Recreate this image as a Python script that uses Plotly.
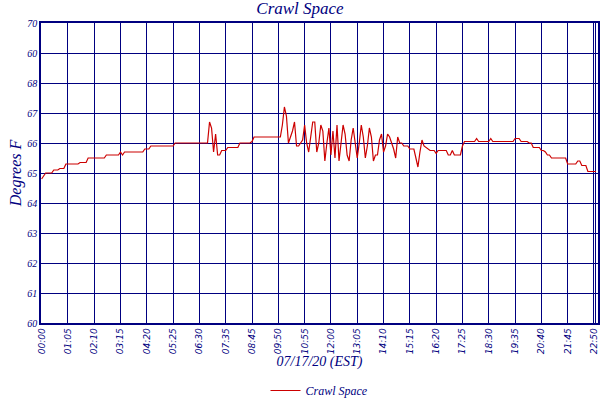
import plotly.graph_objects as go

# 5-minute readings, one row per 65-minute tick interval
temps = [
    64.8, 64.9, 65.0, 65.0, 65.0, 65.0, 65.1, 65.1, 65.1, 65.15, 65.15, 65.15, 65.3,
    65.3, 65.3, 65.3, 65.3, 65.3, 65.3, 65.35, 65.35, 65.35, 65.35, 65.5, 65.5, 65.5,
    65.5, 65.5, 65.5, 65.5, 65.5, 65.5, 65.6, 65.6, 65.6, 65.6, 65.6, 65.6, 65.6,
    65.7, 65.6, 65.7, 65.7, 65.7, 65.7, 65.7, 65.7, 65.7, 65.7, 65.7, 65.7, 65.8,
    65.8, 65.8, 65.9, 65.9, 65.9, 65.9, 65.9, 65.9, 65.9, 65.9, 65.9, 65.9, 65.9,
    65.9, 66.0, 66.0, 66.0, 66.0, 66.0, 66.0, 66.0, 66.0, 66.0, 66.0, 66.0, 66.0,
    66.0, 66.0, 66.0, 66.0, 66.0, 66.7, 66.5, 65.7, 66.3, 65.6, 65.6, 65.75, 65.75,
    65.75, 65.85, 65.85, 65.85, 65.85, 65.85, 65.85, 66.0, 66.0, 66.0, 66.0, 66.0, 66.0,
    66.05, 66.2, 66.2, 66.2, 66.2, 66.2, 66.2, 66.2, 66.2, 66.2, 66.2, 66.2, 66.2,
    66.2, 66.2, 66.6, 67.2, 66.9, 66.0, 66.2, 66.4, 66.7, 65.9, 65.9, 66.0, 66.1,
    66.6, 66.0, 65.7, 66.3, 66.7, 66.7, 65.7, 66.0, 66.6, 66.4, 65.4, 66.0, 66.5,
    65.6, 66.4, 65.5, 66.6, 65.4, 66.0, 66.6, 66.3, 65.6, 65.4, 66.1, 66.5, 66.0,
    65.5, 66.0, 66.6, 66.2, 65.5, 65.9, 66.5, 66.2, 65.4, 65.6, 65.6, 66.1, 66.3,
    65.7, 65.9, 66.3, 66.2, 66.0, 65.8, 65.5, 66.2, 66.0, 66.0, 65.9, 65.9, 65.9,
    65.8, 65.8, 65.8, 65.5, 65.2, 65.7, 66.1, 65.9, 65.85, 65.8, 65.75, 65.75, 65.75,
    65.65, 65.75, 65.75, 65.75, 65.75, 65.75, 65.6, 65.6, 65.75, 65.6, 65.6, 65.6, 65.6,
    65.9, 66.05, 66.05, 66.05, 66.05, 66.05, 66.05, 66.15, 66.05, 66.05, 66.05, 66.05, 66.05,
    66.05, 66.15, 66.05, 66.05, 66.05, 66.05, 66.05, 66.05, 66.05, 66.05, 66.05, 66.05, 66.05,
    66.15, 66.15, 66.15, 66.05, 66.05, 66.05, 66.05, 66.0, 66.0, 65.85, 65.85, 65.85, 65.85,
    65.75, 65.75, 65.7, 65.6, 65.6, 65.5, 65.5, 65.5, 65.5, 65.5, 65.5, 65.5, 65.5,
    65.3, 65.3, 65.3, 65.3, 65.3, 65.4, 65.4, 65.25, 65.25, 65.25, 65.05, 65.05, 65.05,
    65.05, 65.05,
]

tick_labels = ["00:00", "01:05", "02:10", "03:15", "04:20", "05:25", "06:30", "07:35",
               "08:45", "09:50", "10:55", "12:00", "13:05", "14:10", "15:15", "16:20",
               "17:25", "18:30", "19:35", "20:40", "21:45", "22:50", "22:55"]
tick_pos = [i * 13 for i in range(22)] + [274]

y_ticks = [60, 61, 62, 63, 64, 65, 66, 67, 68, 69, 70]
y_text = ["60", "61", "62", "63", "64", "65", "66", "67", "68", "60", "70"]

navy = "#000080"
serif_i = dict(family="Liberation Serif", style="italic", color=navy)

fig = go.Figure()
fig.add_trace(go.Scatter(
    x=list(range(len(temps))),
    y=temps,
    mode="lines",
    line=dict(color="#cc0000", width=1.2),
    name="Crawl Space"
))

fig.update_layout(
    width=600, height=400,
    margin=dict(l=41, r=2, t=23, b=77, autoexpand=False),
    paper_bgcolor="white",
    plot_bgcolor="white",
    title=dict(text="Crawl Space", x=0.5, y=0.995, xanchor="center", yanchor="top",
               pad=dict(t=0), font=dict(serif_i, size=17)),
    showlegend=True,
    legend=dict(orientation="h", x=0.5, xanchor="center", y=-0.225, yanchor="middle",
                font=dict(serif_i, size=12)),
    xaxis=dict(
        range=[-0.3, 275], tickvals=tick_pos, ticktext=tick_labels, tickangle=-90,
        showgrid=True, gridcolor=navy, gridwidth=1.3,
        showline=True, linecolor=navy, linewidth=1.5, mirror=True,
        tickfont=dict(family="DejaVu Sans", style="italic", size=9, color=navy),
        title=dict(text="07/17/20 (EST)", standoff=2, font=dict(serif_i, size=14)),
        zeroline=False, automargin=False,
    ),
    yaxis=dict(
        range=[60, 70], tickvals=y_ticks, ticktext=y_text,
        showgrid=True, gridcolor=navy, gridwidth=1.3,
        showline=True, linecolor=navy, linewidth=1.5, mirror=True,
        tickfont=dict(serif_i, size=10),
        ticks="", ticklen=0,
        title=dict(text="Degrees F", standoff=2, font=dict(serif_i, size=16)),
        zeroline=False, automargin=False,
    ),
)

fig.write_html("out.html", config={"displayModeBar": False},
               post_script="document.body.style.margin='0';")
